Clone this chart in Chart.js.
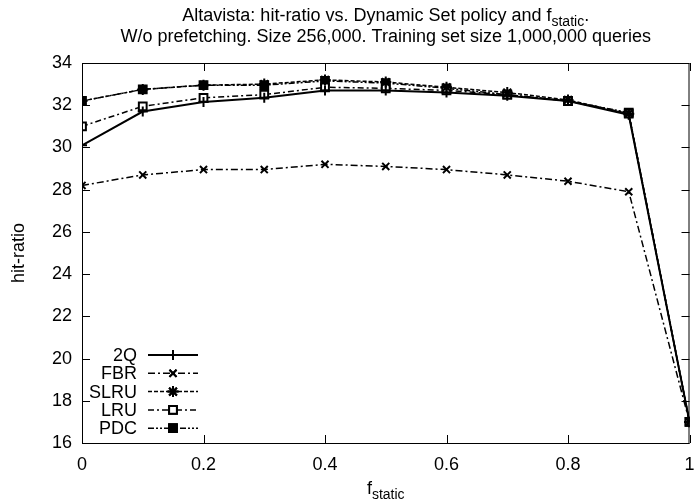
<!DOCTYPE html>
<html>
<head>
<meta charset="utf-8">
<script src="https://cdn.jsdelivr.net/npm/chart.js@4"></script>
<style>
  body { margin: 0; background: #fff; }
  #wrap { width: 697px; height: 504px; }
</style>
</head>
<body>
<div id="wrap"><canvas id="chart" width="697" height="504"></canvas></div>
<script>
// x values (f_static)
const fStatic = [0, 0.1, 0.2, 0.3, 0.4, 0.5, 0.6, 0.7, 0.8, 0.9, 1.0];

// hit-ratio per policy
const q2   = [30.1, 31.7, 32.15, 32.35, 32.7, 32.7, 32.6, 32.45, 32.2, 31.55, 17.0];
const fbr  = [28.2, 28.7, 28.95, 28.95, 29.2, 29.1, 28.95, 28.7, 28.4, 27.9, 17.0];
const slru = [32.2, 32.75, 32.95, 33.0, 33.2, 33.1, 32.85, 32.6, 32.25, 31.6, 17.0];
const lru  = [31.0, 31.95, 32.35, 32.5, 32.85, 32.8, 32.7, 32.5, 32.2, 31.6, 17.0];
const pdc  = [32.2, 32.75, 32.95, 32.95, 33.15, 33.05, 32.8, 32.5, 32.2, 31.65, 17.0];

const seriesNames = ['2Q', 'FBR', 'SLRU', 'LRU', 'PDC'];
const xTicks = [0, 0.2, 0.4, 0.6, 0.8, 1];
const yTicks = [16, 18, 20, 22, 24, 26, 28, 30, 32, 34];

const FONT = '"Liberation Sans", Arial, sans-serif';
const FS = 18;

const toPoints = arr => arr.map((v, i) => ({ x: fStatic[i], y: v }));

const styles = [
  { borderWidth: 2, borderDash: [], pointStyle: 'cross', pointRadius: 5, fill: '#000' },
  { borderWidth: 1.5, borderDash: [7, 3, 2, 3], pointStyle: 'crossRot', pointRadius: 5, fill: '#000' },
  { borderWidth: 1.5, borderDash: [4, 2], pointStyle: 'star', pointRadius: 5.5, fill: '#000' },
  { borderWidth: 1.5, borderDash: [6, 3, 2, 3], pointStyle: 'rect', pointRadius: 5.5, fill: '#fff' },
  { borderWidth: 1.5, borderDash: [6, 2, 2, 2, 2, 2], pointStyle: 'rect', pointRadius: 5.5, fill: '#000' }
];

const allData = [q2, fbr, slru, lru, pdc];

const datasets = allData.map((arr, i) => ({
  label: seriesNames[i],
  data: toPoints(arr),
  borderColor: '#000',
  backgroundColor: styles[i].fill,
  borderWidth: styles[i].borderWidth,
  borderDash: styles[i].borderDash,
  pointStyle: styles[i].pointStyle,
  pointRadius: styles[i].pointRadius,
  pointBorderWidth: 2,
  pointBorderColor: '#000',
  pointBackgroundColor: styles[i].fill,
  tension: 0,
  fill: false
}));

// draws text with a subscript part
function subText(ctx, main, sub, after, cx, y, size) {
  const small = Math.round(size * 0.75);
  ctx.font = size + 'px ' + FONT;
  const w1 = ctx.measureText(main).width;
  const w3 = ctx.measureText(after).width;
  ctx.font = small + 'px ' + FONT;
  const w2 = ctx.measureText(sub).width;
  let x = cx - (w1 + w2 + w3) / 2;
  ctx.textAlign = 'left';
  ctx.textBaseline = 'alphabetic';
  ctx.font = size + 'px ' + FONT;
  ctx.fillText(main, x, y);
  x += w1;
  ctx.font = small + 'px ' + FONT;
  ctx.fillText(sub, x, y + 5);
  x += w2;
  ctx.font = size + 'px ' + FONT;
  ctx.fillText(after, x, y);
}

const decor = {
  id: 'decor',
  afterDraw(chart) {
    const ctx = chart.ctx;
    const a = chart.chartArea;
    const xs = chart.scales.x, ys = chart.scales.y;
    ctx.save();
    ctx.strokeStyle = '#000';
    ctx.fillStyle = '#000';
    ctx.lineWidth = 1;
    ctx.setLineDash([]);
    // frame
    ctx.strokeRect(a.left + 0.5, a.top + 0.5, a.right - a.left - 1, a.bottom - a.top);
    // inward ticks on all sides
    const tl = 8;
    ctx.beginPath();
    xTicks.forEach(v => {
      const px = Math.round(xs.getPixelForValue(v)) + 0.5;
      ctx.moveTo(px, a.bottom); ctx.lineTo(px, a.bottom - tl);
      ctx.moveTo(px, a.top); ctx.lineTo(px, a.top + tl);
    });
    yTicks.forEach(v => {
      const py = Math.round(ys.getPixelForValue(v)) + 0.5;
      ctx.moveTo(a.left, py); ctx.lineTo(a.left + tl, py);
      ctx.moveTo(a.right, py); ctx.lineTo(a.right - tl, py);
    });
    ctx.stroke();

    // title
    const cx = (a.left + a.right) / 2;
    subText(ctx, 'Altavista: hit-ratio vs. Dynamic Set policy and f', 'static', '.', cx, 21, FS);
    ctx.font = FS + 'px ' + FONT;
    ctx.textAlign = 'center';
    ctx.fillText('W/o prefetching. Size 256,000. Training set size 1,000,000 queries', cx, 41.5);

    // x axis label
    subText(ctx, 'f', 'static', '', cx, 494, FS);

    // y axis label
    ctx.save();
    ctx.translate(19, (a.top + a.bottom) / 2);
    ctx.rotate(-Math.PI / 2);
    ctx.font = FS + 'px ' + FONT;
    ctx.textAlign = 'center';
    ctx.textBaseline = 'middle';
    ctx.fillText('hit-ratio', 0, 0);
    ctx.restore();

    // legend, bottom-left inside the plot
    const rowH = 18.3;
    const y0 = 355;
    chart.data.datasets.forEach((ds, i) => {
      const y = y0 + i * rowH;
      ctx.font = FS + 'px ' + FONT;
      ctx.textAlign = 'right';
      ctx.textBaseline = 'middle';
      ctx.fillStyle = '#000';
      ctx.fillText(ds.label, 137, y + 1);
      ctx.beginPath();
      ctx.lineWidth = ds.borderWidth;
      ctx.setLineDash(ds.borderDash);
      ctx.moveTo(148, y);
      ctx.lineTo(198, y);
      ctx.stroke();
      ctx.setLineDash([]);
      ctx.lineWidth = 2;
      ctx.fillStyle = ds.pointBackgroundColor;
      Chart.helpers.drawPoint(ctx, {
        pointStyle: ds.pointStyle,
        radius: ds.pointRadius,
        rotation: 0,
        borderWidth: 2
      }, 173, y);
      if (ds.pointStyle === 'rect') ctx.fill();
      ctx.stroke();
    });
    ctx.restore();
  }
};

new Chart(document.getElementById('chart'), {
  type: 'line',
  data: { datasets: datasets },
  options: {
    responsive: false,
    animation: false,
    layout: { padding: { top: 63, right: 1, left: 0, bottom: 0 } },
    plugins: {
      legend: { display: false },
      title: { display: false },
      tooltip: { enabled: false }
    },
    scales: {
      x: {
        type: 'linear',
        min: 0,
        max: 1,
        grid: { display: false, drawTicks: false },
        border: { display: false },
        afterBuildTicks: s => { s.ticks = xTicks.map(v => ({ value: v })); },
        afterFit: s => { s.height = 61; s.paddingLeft = 0; s.paddingRight = 0; },
        ticks: {
          color: '#000',
          padding: 11,
          maxRotation: 0,
          autoSkip: false,
          font: { family: FONT, size: FS },
          callback: v => String(v)
        }
      },
      y: {
        min: 16,
        max: 34,
        grid: { display: false, drawTicks: false },
        border: { display: false },
        afterBuildTicks: s => { s.ticks = yTicks.map(v => ({ value: v })); },
        afterFit: s => { s.width = 82; },
        ticks: {
          color: '#000',
          padding: 10,
          font: { family: FONT, size: FS }
        }
      }
    }
  },
  plugins: [decor]
});
</script>
</body>
</html>
